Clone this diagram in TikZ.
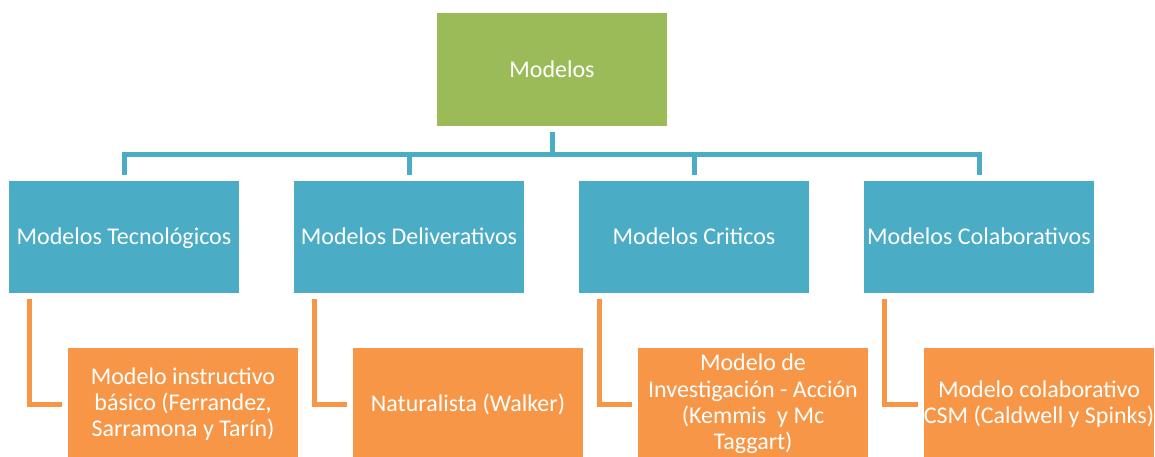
\documentclass[tikz,border=0pt]{standalone}
\usepackage{fontspec}
\setmainfont{Carlito}
\usepackage{tikz}
\usetikzlibrary{positioning, calc}
\definecolor{topgreen}{HTML}{9BBB59}
\definecolor{midblue}{HTML}{4BACC6}
\definecolor{leaforange}{HTML}{F79646}
\tikzset{boxtext/.style={text = white, font = \fontsize{24}{26.3}\selectfont, align = center, inner sep = 0pt}}
\tikzset{bluebox/.style={rectangle, fill = midblue, minimum width = 230pt, minimum height = 112pt, boxtext, execute at begin node = {\vphantom{Óg}}}}
\tikzset{orangebox/.style={rectangle, fill = leaforange, minimum width = 230pt, minimum height = 112pt, boxtext}}
\tikzset{bluelink/.style={draw = midblue, line width = 5pt}}
\tikzset{orangelink/.style={draw = leaforange, line width = 5pt}}

\begin{document}
\begin{tikzpicture}[x = 1pt, y = -1pt]
    \useasboundingbox (0, 0) rectangle (1155, 456);

    \node[rectangle,
    fill = topgreen,
    minimum width = 230pt,
    minimum height = 113pt,
    boxtext] (mod) at (552, 69.5) {Modelos};

    \node[bluebox] (tec) at (124, 237) {Modelos Tecnológicos};
    \node[bluebox] (del) at (409, 237) {Modelos Deliverativos};
    \node[bluebox] (cri) at (694, 237) {Modelos Criticos};
    \node[bluebox] (col) at (979, 237) {Modelos Colaborativos};

    \node[orangebox] (ins) at (183, 404) {Modelo instructivo\\básico (Ferrandez,\\Sarramona y Tarín)};
    \node[orangebox] (nat) at (468, 404) {Naturalista (Walker)};
    \node[orangebox] (inv) at (753, 404) {Modelo de\\Investigación - Acción\\(Kemmis\ \ y Mc\\Taggart)};
    \node[orangebox] (csm) at (1039, 404) {Modelo colaborativo\\CSM (Caldwell y Spinks)};

    \coordinate (bus) at (552, 154.5);

    \draw [bluelink] ([yshift = -6pt]mod.south) -- (bus);
    \draw [bluelink] (bus) -| ([yshift = 6pt]tec.north);
    \draw [bluelink] (bus) -| ([yshift = 6pt]del.north);
    \draw [bluelink] (bus) -| ([yshift = 6pt]cri.north);
    \draw [bluelink] (bus) -| ([yshift = 6pt]col.north);

    \draw [orangelink] ([xshift = 21pt, yshift = -6pt]tec.south west) |- ([xshift = -6pt]ins.west);
    \draw [orangelink] ([xshift = 21pt, yshift = -6pt]del.south west) |- ([xshift = -6pt]nat.west);
    \draw [orangelink] ([xshift = 21pt, yshift = -6pt]cri.south west) |- ([xshift = -6pt]inv.west);
    \draw [orangelink] ([xshift = 21pt, yshift = -6pt]col.south west) |- ([xshift = -6pt]csm.west);

\end{tikzpicture}
\end{document}
